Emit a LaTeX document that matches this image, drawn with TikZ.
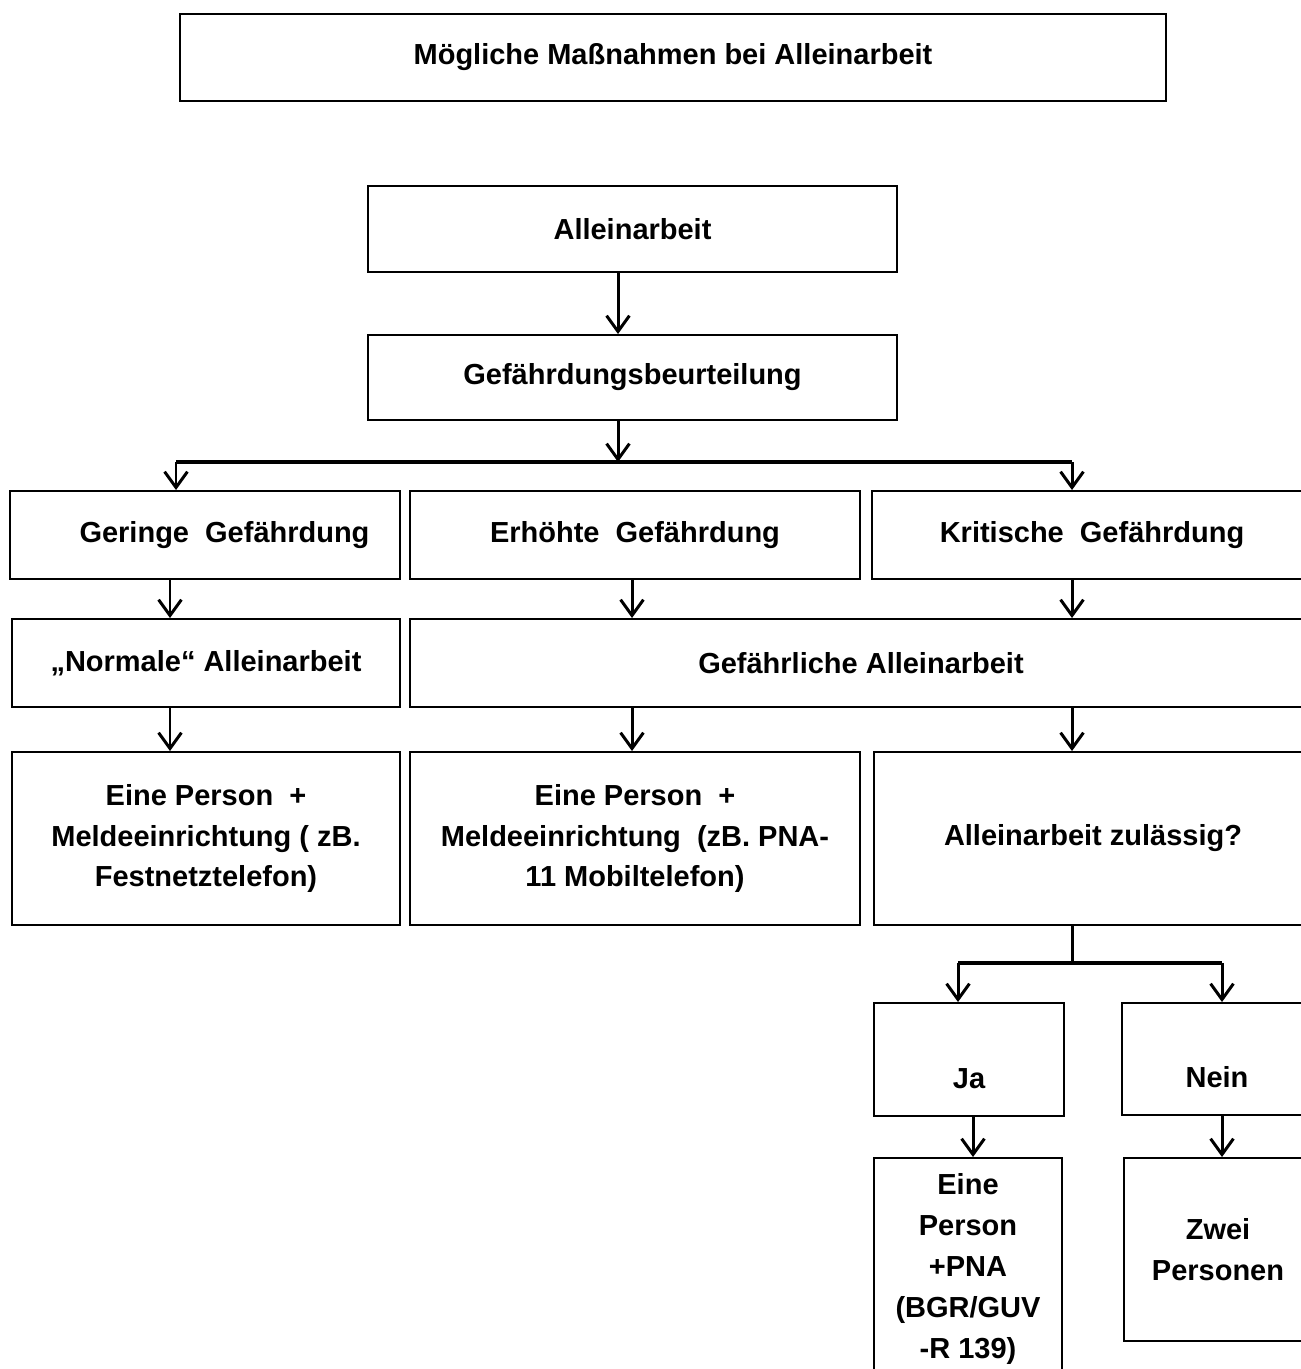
\documentclass[tikz,border=0pt]{standalone}
\usepackage{fontspec}
\setmainfont{Liberation Sans}
\usetikzlibrary{arrows.meta}
\newdimen\pxu \pxu=0.02cm
\tikzset{
  box/.style={draw, line width=1.1pt, inner sep=0pt, align=center, font=\bfseries\fontsize{16.5}{23.2}\selectfont},
  arr/.style={line width=1.7pt, -{Straight Barb[length=9pt,width=13pt,line width=1.7pt]}},
  bar/.style={line width=2.2pt},
}
\begin{document}
\begin{tikzpicture}[x=0.02cm,y=-0.02cm]
\useasboundingbox (0,0) rectangle (1301,1369);
\clip (0,0) rectangle (1301,1369);
\node[box, minimum width=986\pxu, minimum height=87\pxu] (title) at (673,57.5) {Mögliche Maßnahmen bei Alleinarbeit};
\node[box, minimum width=529\pxu, minimum height=86\pxu] (alone) at (632.5,229) {Alleinarbeit};
\node[box, minimum width=529\pxu, minimum height=85\pxu] (gbu) at (632.5,377.5) {Gefährdungsbeurteilung};
\node[box, minimum width=390\pxu, minimum height=88\pxu] (gering) at (205,535) {\hspace*{0.78cm}Geringe\ \ Gefährdung};
\node[box, minimum width=450\pxu, minimum height=88\pxu] (erhoeht) at (635,535) {Erhöhte\ \ Gefährdung};
\node[box, minimum width=440\pxu, minimum height=88\pxu] (kritisch) at (1092,535) {Kritische\ \ Gefährdung};
\node[box, minimum width=388\pxu, minimum height=88\pxu] (normal) at (206,663) {„Normale“ Alleinarbeit};
\node[box, minimum width=902\pxu, minimum height=88\pxu] (gefaehrlich) at (861,663) {Gefährliche Alleinarbeit};
\node[box, minimum width=388\pxu, minimum height=173\pxu] (pers1) at (206,838.5) {Eine Person\ \ +\\Meldeeinrichtung ( zB.\\Festnetztelefon)};
\node[box, minimum width=450\pxu, minimum height=173\pxu] (pers2) at (635,838.5) {Eine Person\ \ +\\Meldeeinrichtung\ \ (zB. PNA-\\11 Mobiltelefon)};
\node[box, minimum width=438\pxu, minimum height=173\pxu] (zulaessig) at (1093,838.5) {Alleinarbeit zulässig?};
\node[box, minimum width=190\pxu, minimum height=113\pxu] (ja) at (969,1059.5) {\strut\\\strut Ja};
\node[box, minimum width=190\pxu, minimum height=112\pxu] (nein) at (1217,1059) {\strut\\\strut Nein};
\node[box, minimum width=188\pxu, minimum height=222\pxu] (pna) at (968,1269) {Eine\\Person\\+PNA\\(BGR/GUV\\-R 139)};
\node[box, minimum width=188\pxu, minimum height=183\pxu] (zwei) at (1218,1249.5) {Zwei\\Personen};
\coordinate (colA) at (170,0);
\coordinate (colB) at (632,0);
\coordinate (colC) at (1072,0);
\coordinate (colD) at (618,0);
\coordinate (colJ) at (973,0);
\coordinate (fork) at (618,462);
\coordinate (forkL) at (176,462);
\coordinate (forkR) at (1072,462);
\coordinate (split) at (1072,963);
\coordinate (splitL) at (958,963);
\coordinate (splitR) at (1222,963);
\draw[arr] (alone.south -| colD) -- (gbu.north -| colD);
\draw[arr] (gbu.south -| fork) -- (fork);
\draw[bar] (forkL) -- (forkR);
\draw[arr] (forkL) -- (gering.north -| forkL);
\draw[arr] (forkR) -- (kritisch.north -| forkR);
\draw[arr] (gering.south -| colA) -- (normal.north -| colA);
\draw[arr] (erhoeht.south -| colB) -- (gefaehrlich.north -| colB);
\draw[arr] (kritisch.south -| colC) -- (gefaehrlich.north -| colC);
\draw[arr] (normal.south -| colA) -- (pers1.north -| colA);
\draw[arr] (gefaehrlich.south -| colB) -- (pers2.north -| colB);
\draw[arr] (gefaehrlich.south -| colC) -- (zulaessig.north -| colC);
\draw[line width=1.7pt] (zulaessig.south -| split) -- (split);
\draw[bar] (splitL) -- (splitR);
\draw[arr] (splitL) -- (ja.north -| splitL);
\draw[arr] (splitR) -- (nein.north -| splitR);
\draw[arr] (ja.south -| colJ) -- (pna.north -| colJ);
\draw[arr] (nein.south -| splitR) -- (zwei.north -| splitR);
\end{tikzpicture}
\end{document}
